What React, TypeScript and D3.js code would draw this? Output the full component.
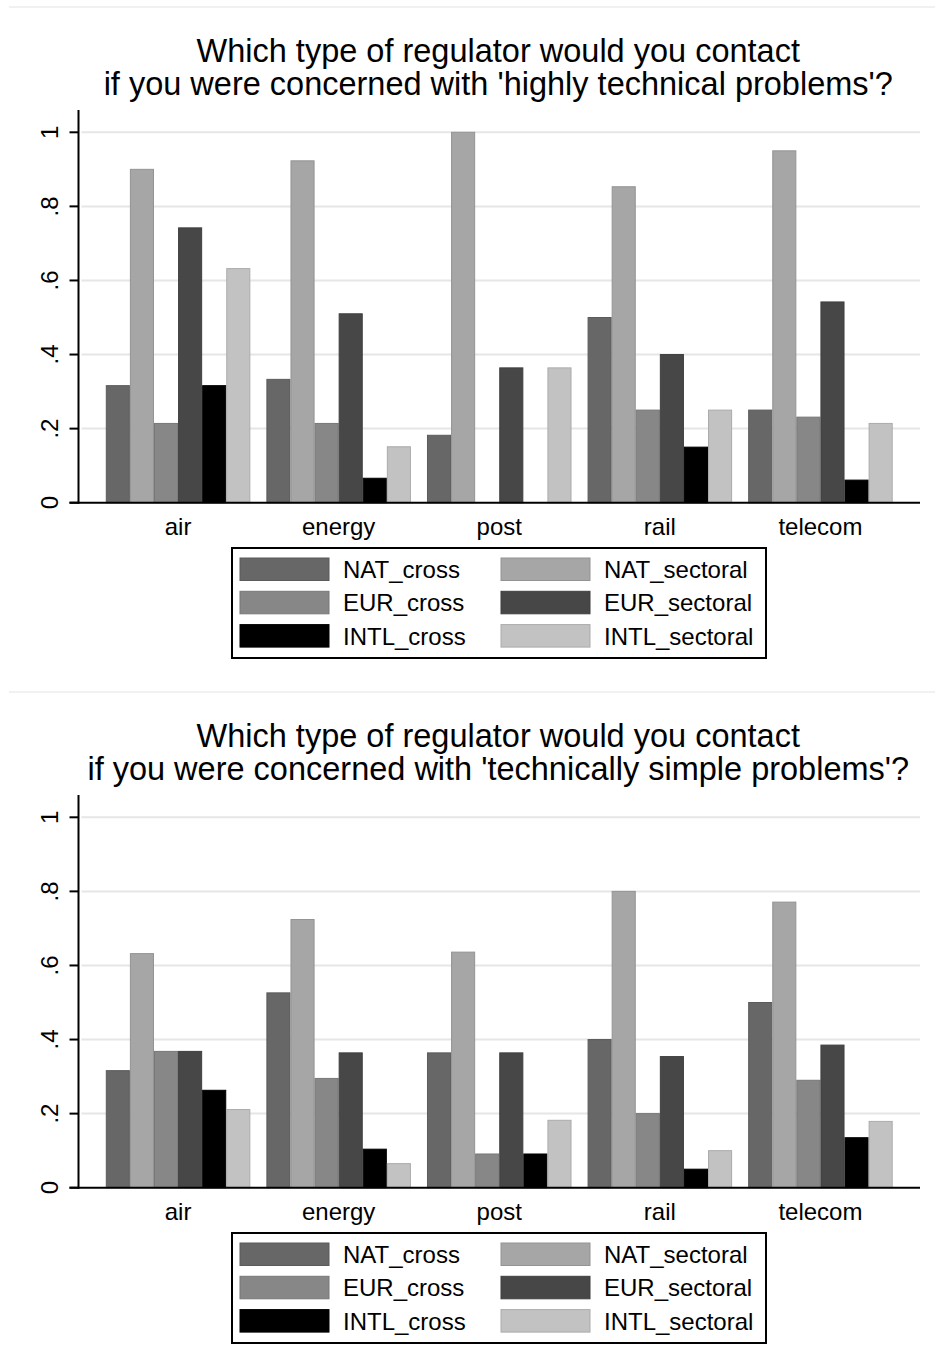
import React from "react";
import * as d3 from "d3";

const categories = ["air", "energy", "post", "rail", "telecom"];
const seriesNames = ["NAT_cross", "NAT_sectoral", "EUR_cross", "EUR_sectoral", "INTL_cross", "INTL_sectoral"];
const seriesColors = ["#676767", "#a6a6a6", "#878787", "#474747", "#000000", "#c2c2c2"];
const yTicks = [0, 0.2, 0.4, 0.6, 0.8, 1];
const yTickLabels = ["0", ".2", ".4", ".6", ".8", "1"];

// panel 1: highly technical problems
const highNatCross = [0.316, 0.333, 0.182, 0.5, 0.25];
const highNatSectoral = [0.9, 0.923, 1.0, 0.853, 0.95];
const highEurCross = [0.214, 0.214, 0, 0.25, 0.231];
const highEurSectoral = [0.742, 0.51, 0.364, 0.4, 0.542];
const highIntlCross = [0.316, 0.066, 0, 0.15, 0.061];
const highIntlSectoral = [0.632, 0.151, 0.364, 0.25, 0.214];

// panel 2: technically simple problems
const simpleNatCross = [0.316, 0.526, 0.364, 0.4, 0.5];
const simpleNatSectoral = [0.632, 0.724, 0.636, 0.8, 0.771];
const simpleEurCross = [0.368, 0.295, 0.091, 0.2, 0.29];
const simpleEurSectoral = [0.368, 0.364, 0.364, 0.354, 0.385];
const simpleIntlCross = [0.263, 0.104, 0.091, 0.05, 0.135];
const simpleIntlSectoral = [0.211, 0.065, 0.182, 0.1, 0.179];

const highSeries = [highNatCross, highNatSectoral, highEurCross, highEurSectoral, highIntlCross, highIntlSectoral];
const simpleSeries = [simpleNatCross, simpleNatSectoral, simpleEurCross, simpleEurSectoral, simpleIntlCross, simpleIntlSectoral];

const W = 935;
const H = 1370;
const font = "'Liberation Sans', Arial, sans-serif";

const Panel = ({ top, title, series }: { top: number; title: string; series: number[][] }) => {
  const left = 78.5;
  const right = 920;
  const y0 = top + 502.7;
  const y1 = top + 132.3;
  const y = d3.scaleLinear().domain([0, 1]).range([y0, y1]);
  const x = d3.scaleBand().domain(categories).range([left, right]).paddingInner(0.1).paddingOuter(0.17);
  const xs = d3.scaleBand().domain(seriesNames).range([0, x.bandwidth()]);
  const mid = (left + right) / 2 - 1;

  return (
    <g>
      <text x={mid} y={top + 62} textAnchor="middle" fontSize={32.5} fontFamily={font} fill="#000">
        Which type of regulator would you contact
      </text>
      <text x={mid} y={top + 94.5} textAnchor="middle" fontSize={32.5} fontFamily={font} fill="#000">
        {title}
      </text>

      {yTicks.filter(t => t > 0).map(t => (
        <line key={"g" + t} x1={left + 3} x2={right} y1={y(t)} y2={y(t)} stroke="#e6e6e6" strokeWidth={2} />
      ))}

      {seriesNames.map((s, si) =>
        categories.map((c, ci) => {
          const v = series[si][ci];
          if (v <= 0) return null;
          const fill = seriesColors[si];
          return (
            <rect
              key={s + c}
              x={x(c)! + xs(s)! + 0.5}
              y={y(v)}
              width={xs.bandwidth() - 1}
              height={y0 - y(v)}
              fill={fill}
              stroke={d3.color(fill)!.darker(0.35).formatHex()}
              strokeWidth={1}
            />
          );
        })
      )}

      <line x1={left} x2={left} y1={top + 110} y2={y0 + 1} stroke="#000" strokeWidth={2} />
      <line x1={left - 9} x2={right} y1={y0} y2={y0} stroke="#000" strokeWidth={2} />
      {yTicks.map((t, i) => (
        <g key={"t" + t}>
          <line x1={left - 9} x2={left} y1={y(t)} y2={y(t)} stroke="#000" strokeWidth={2} />
          <text
            transform={`translate(${57.5},${y(t)}) rotate(-90)`}
            textAnchor="middle"
            fontSize={24}
            fontFamily={font}
            fill="#000"
          >
            {yTickLabels[i]}
          </text>
        </g>
      ))}

      {categories.map(c => (
        <text key={"c" + c} x={x(c)! + x.bandwidth() / 2} y={top + 535} textAnchor="middle" fontSize={24} fontFamily={font} fill="#000">
          {c}
        </text>
      ))}

      <rect x={232} y={top + 548} width={534} height={110} fill="#fff" stroke="#000" strokeWidth={2} />
      {seriesNames.map((s, i) => {
        const col = i % 2;
        const row = Math.floor(i / 2);
        const sx = col === 0 ? 240 : 501;
        const sy = top + 558 + row * 33.3;
        const fill = seriesColors[i];
        return (
          <g key={"l" + s}>
            <rect x={sx} y={sy} width={89} height={22.5} fill={fill} stroke={d3.color(fill)!.darker(0.35).formatHex()} strokeWidth={1} />
            <text x={sx + 103} y={sy + 20} fontSize={24} fontFamily={font} fill="#000">
              {s}
            </text>
          </g>
        );
      })}
    </g>
  );
};

export default function App() {
  return (
    <svg
      width={W}
      height={H}
      viewBox={`0 0 ${W} ${H}`}
      style={{ position: "absolute", left: 0, top: 0, display: "block", background: "#fff" }}
    >
      <rect x={0} y={0} width={W} height={H} fill="#fff" />
      <line x1={9} x2={W} y1={7} y2={7} stroke="#ececec" strokeWidth={1.5} />
      <line x1={9} x2={W} y1={692} y2={692} stroke="#ececec" strokeWidth={1.5} />
      <Panel top={0} title="if you were concerned with 'highly technical problems'?" series={highSeries} />
      <Panel top={685} title="if you were concerned with 'technically simple problems'?" series={simpleSeries} />
    </svg>
  );
}
